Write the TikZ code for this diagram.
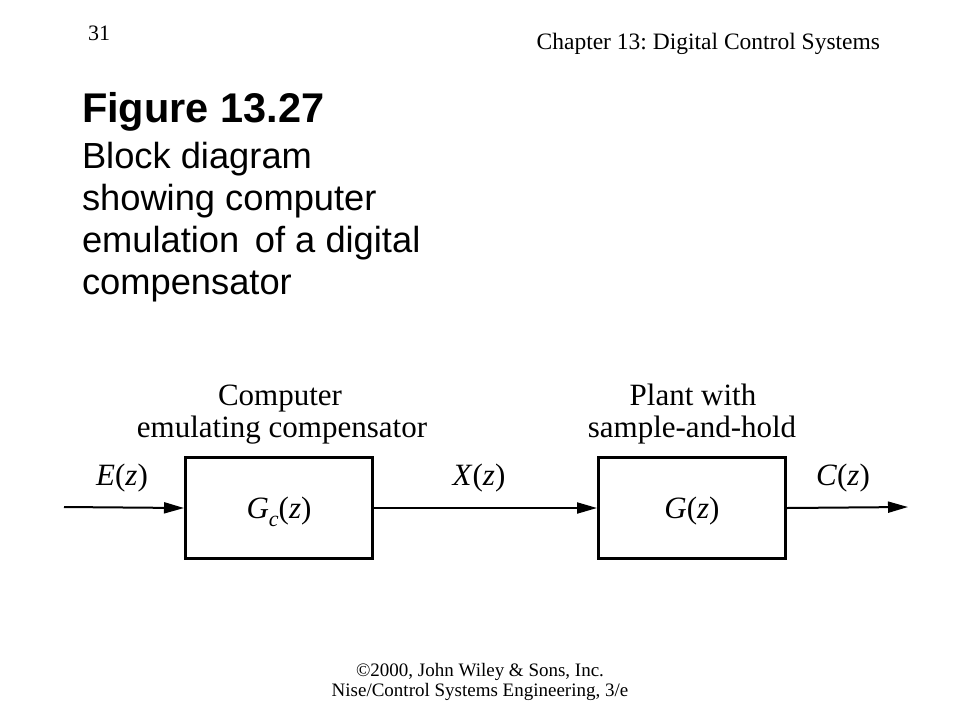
\documentclass[tikz,border=0pt]{standalone}
\usepackage{fontspec}
\setmainfont{Liberation Serif}
\newfontfamily\arialf{Liberation Sans}
\usetikzlibrary{arrows.meta}
\frenchspacing
\begin{document}
\begin{tikzpicture}[x=1pt,y=-1pt,
  txt/.style={inner sep=0pt,outer sep=0pt},
  hdr/.style={txt,font=\fontsize{23.5}{26}\selectfont},
  foot/.style={txt,font=\fontsize{19}{22}\selectfont},
  ttl/.style={txt,anchor=base west,font=\arialf\bfseries\fontsize{41.5}{44}\selectfont},
  body/.style={txt,anchor=base west,font=\arialf\fontsize{36.3}{40}\selectfont},
  dlab/.style={txt,anchor=base,font=\fontsize{31}{34}\selectfont},
  blockbox/.style={draw,line width=3pt,minimum width=187pt,minimum height=101pt,inner sep=0pt},
  sig/.style={line width=2pt,-{Triangle[length=20pt,width=11pt]}}]
\fill[white] (0,0) rectangle (960,720);
\useasboundingbox (0,0) rectangle (960,720);
% header
\node[hdr,anchor=base west,font=\fontsize{22}{24}\selectfont] (pg) at (88,40) {31};
\node[hdr,anchor=base east] (chap) at (880,49) {Chapter 13: Digital Control Systems};
% title
\node[ttl] (fig) at (82,122) {Figure 13.27};
\node[body] (l1) at (82,168) {Block diagram};
\node[body] (l2) at (82,210) {showing computer};
\node[body] (l3) at (82,252) {emulation\hspace{0.15em} of a digital};
\node[body] (l4) at (82,294) {compensator};
% diagram
\node[blockbox] (b1) at (279,508) {};
\node[blockbox] (b2) at (692,508) {};
\coordinate (in) at (64,507);
\coordinate (out) at (908,507);
\draw[sig] (in) -- (b1.west);
\draw[sig] (b1.east) -- (b2.west);
\draw[sig] (b2.east) -- (out);
\node[dlab] (c1a) at (280,405) {Computer};
\node[dlab] (c1b) at (282,437) {emulating compensator};
\node[dlab] (c2a) at (693,405) {Plant with};
\node[dlab] (c2b) at (692,437) {sample-and-hold};
\node[dlab] (le) at (122,485) {\textit{E}(\textit{z})};
\node[dlab] (lx) at (479,485) {\textit{X}(\textit{z})};
\node[dlab] (lc) at (843,485) {\textit{C}(\textit{z})};
\node[dlab] (lgc) at (279,518) {\textit{G}\raisebox{-0.28em}{\fontsize{22}{24}\selectfont\textit{c}}(\textit{z})};
\node[dlab] (lg) at (692,518) {\textit{G}(\textit{z})};
% footer
\node[foot,anchor=base] (f1) at (480,676) {©2000, John Wiley \& Sons, Inc.};
\node[foot,anchor=base] (f2) at (480,696) {Nise/Control Systems Engineering, 3/e};
\end{tikzpicture}
\end{document}
